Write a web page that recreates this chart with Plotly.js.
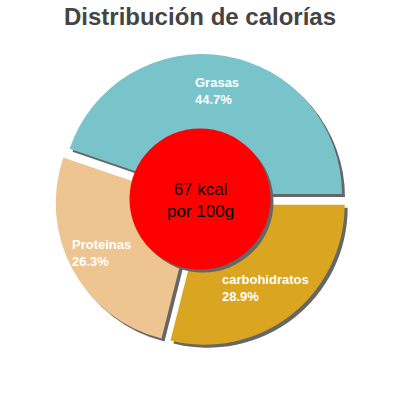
<!DOCTYPE html>
<html><head><meta charset="utf-8">
<script src="https://cdn.plot.ly/plotly-3.0.1.min.js"></script>
<style>html,body{margin:0;padding:0;background:#fff}#chart{width:400px;height:400px}</style>
</head><body><div id="chart"></div>
<script>
var labels = ["Grasas", "Proteinas", "carbohidratos"];
var values = [44.7, 26.3, 28.9];
var colors = ["#79C4CB", "#EEC591", "#DAA520"];
var centerLines = ["67 kcal", "por 100g"];
var titleText = "Distribución de calorías";

var W = 400, H = 400;
function dom(cx, cy, size) {
  return {x: [(cx - size/2)/W, (cx + size/2)/W], y: [1 - (cy + size/2)/H, 1 - (cy - size/2)/H]};
}
var total = values.reduce(function(a, b){return a + b;}, 0);
var rot = 90 - values[0] / total * 360;
var cx = 201, cy = 200, pieSize = 292, pullAmt = 0.043;
var common = {type: "pie", labels: labels, values: values, sort: false,
  direction: "counterclockwise", rotation: rot, pull: pullAmt,
  textinfo: "none", hoverinfo: "none", showlegend: false};

var shadow = Object.assign({}, common, {domain: dom(cx + 3, cy + 3, pieSize),
  marker: {colors: labels.map(function(){return "#666666";}), line: {width: 0}}});
var main = Object.assign({}, common, {domain: dom(cx, cy, pieSize),
  marker: {colors: colors, line: {width: 0}}});
var redShadow = {type: "pie", labels: ["s"], values: [1], sort: false, textinfo: "none",
  hoverinfo: "none", showlegend: false, domain: dom(cx + 2, cy + 2, 141),
  marker: {colors: ["#666666"], line: {width: 0}}};
var red = {type: "pie", labels: ["c"], values: [1], sort: false, textinfo: "none",
  hoverinfo: "none", showlegend: false, domain: dom(200, 199, 141),
  marker: {colors: ["#FF0000"], line: {width: 0}}};

var FONT = "Liberation Sans, Arial, sans-serif";
var labelPos = [[194, 90.2], [71.3, 251.6], [221, 286.7]];
var annotations = labels.map(function(l, i) {
  return {xref: "paper", yref: "paper", x: labelPos[i][0]/W, y: 1 - (labelPos[i][1] + 1)/H,
    xanchor: "left", yanchor: "middle", align: "left", showarrow: false, borderpad: 0,
    text: "<b>" + l + "<br>" + values[i].toFixed(1) + "%</b>",
    font: {family: FONT, size: 13, color: "#FFFFFF"}};
});
annotations.push({xref: "paper", yref: "paper", x: 200/W, y: 1 - 200/H, xanchor: "center",
  yanchor: "middle", showarrow: false, borderpad: 0, text: centerLines.join("<br>"),
  font: {family: FONT, size: 17, color: "#000000"}});

var layout = {width: W, height: H, margin: {l: 0, r: 0, t: 0, b: 0},
  paper_bgcolor: "#FFFFFF", plot_bgcolor: "#FFFFFF",
  title: {text: "<b>" + titleText + "</b>", x: 0.5, xanchor: "center", y: 1 - 17/H, yanchor: "middle",
    font: {family: FONT, size: 24, color: "#444444"}},
  annotations: annotations};
Plotly.newPlot("chart", [shadow, main, redShadow, red], layout, {staticPlot: true});
</script></body></html>
